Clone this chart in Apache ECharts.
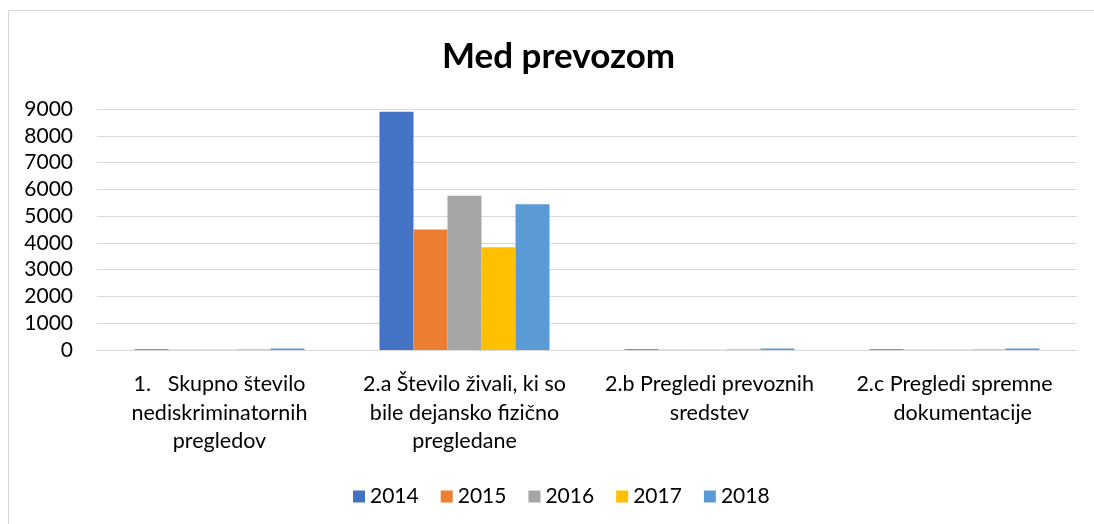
<!DOCTYPE html>
<html>
<head>
<meta charset="utf-8">
<script src="https://cdn.jsdelivr.net/npm/echarts@6/dist/echarts.min.js"></script>
<style>
html,body{margin:0;padding:0;background:#fff;}
#c{width:1094px;height:524px;}
</style>
</head>
<body>
<div id="c"></div>
<script>
const categories = [
  "1.   Skupno število\nnediskriminatornih\npregledov",
  "2.a Število živali, ki so\nbile dejansko fizično\npregledane",
  "2.b Pregledi prevoznih\nsredstev",
  "2.c Pregledi spremne\n   dokumentacije"
];
const years = ["2014", "2015", "2016", "2017", "2018"];
const v2014 = [30, 8900, 30, 30];
const v2015 = [10, 4500, 10, 10];
const v2016 = [5, 5760, 5, 5];
const v2017 = [25, 3840, 25, 25];
const v2018 = [60, 5440, 60, 60];
const yTicks = [0, 1000, 2000, 3000, 4000, 5000, 6000, 7000, 8000, 9000];
const colors = ["#4472C4", "#ED7D31", "#A5A5A5", "#FFC000", "#5B9BD5"];
const seriesValues = [v2014, v2015, v2016, v2017, v2018];

const font = "Lato, 'Open Sans', sans-serif";
const chart = echarts.init(document.getElementById('c'), null, {renderer: 'canvas'});
chart.setOption({
  animation: false,
  color: colors,
  graphic: [{
    type: 'rect',
    shape: {x: 8.5, y: 10.5, width: 1200, height: 700},
    style: {fill: 'none', stroke: '#d9d9d9', lineWidth: 1},
    silent: true
  }],
  title: {
    text: 'Med prevozom',
    left: 437,
    top: 34,
    textStyle: {fontFamily: font, fontSize: 35, fontWeight: 'bold', color: '#000'}
  },
  legend: {
    data: years,
    top: 481,
    left: 348,
    itemWidth: 12,
    itemHeight: 12,
    itemGap: 22,
    icon: 'rect',
    textStyle: {fontFamily: font, fontSize: 21, color: '#000'}
  },
  grid: {left: 97, right: 17, top: 109, bottom: 174, containLabel: false},
  xAxis: {
    type: 'category',
    data: categories,
    axisLine: {show: true, lineStyle: {color: '#d9d9d9', width: 1}},
    axisTick: {show: false},
    axisLabel: {
      fontFamily: font, fontSize: 21.5, color: '#000', lineHeight: 28.5,
      margin: 20, interval: 0, align: 'center'
    }
  },
  yAxis: {
    type: 'value',
    min: 0,
    max: 9000,
    interval: 1000,
    axisLine: {show: false},
    axisTick: {show: false},
    splitLine: {lineStyle: {color: '#d9d9d9', width: 1}},
    axisLabel: {
      fontFamily: font, fontSize: 21, color: '#000', margin: 24,
      formatter: function (v) { return yTicks.indexOf(v) >= 0 ? String(v) : ''; }
    }
  },
  series: years.map(function (y, i) {
    return {
      name: y,
      type: 'bar',
      data: seriesValues[i],
      barGap: '0%',
      barCategoryGap: '30.6%',
      itemStyle: {color: colors[i]}
    };
  })
});
</script>
</body>
</html>
